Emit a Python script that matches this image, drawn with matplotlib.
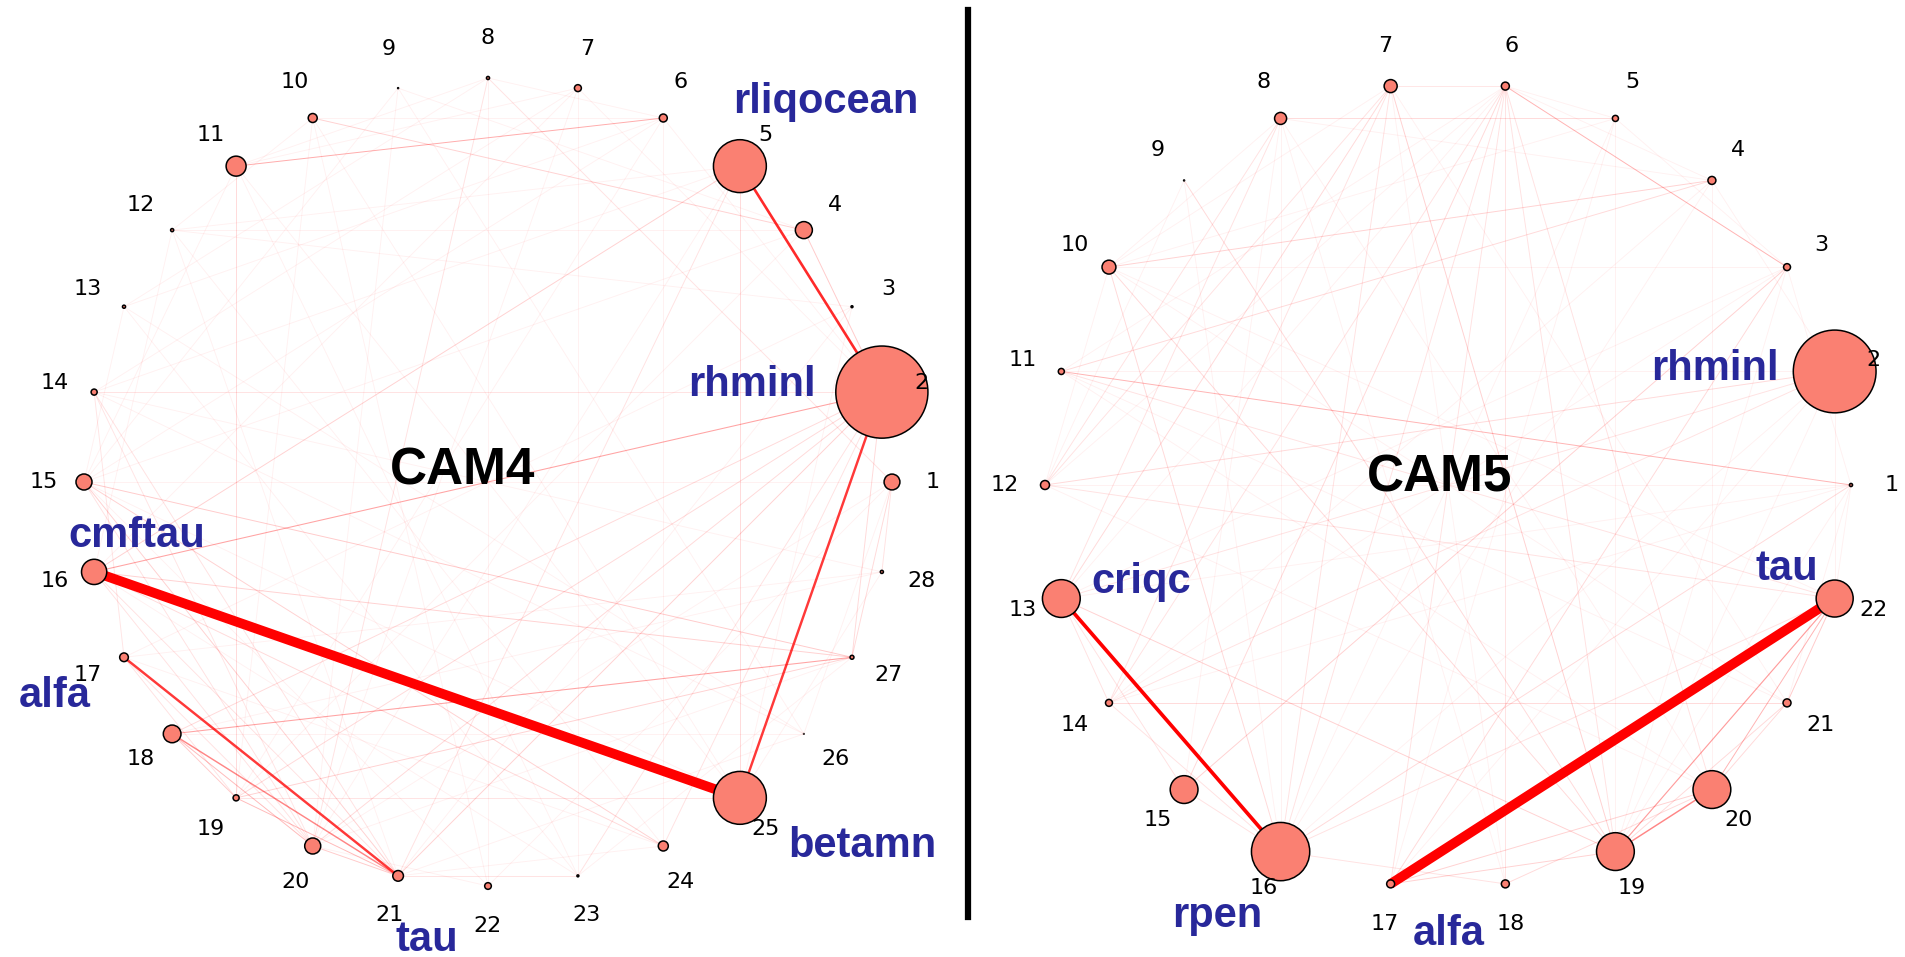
import numpy as np
import matplotlib
matplotlib.use("Agg")
import matplotlib.pyplot as plt
from matplotlib.collections import LineCollection
from matplotlib.lines import Line2D

# ---------------------------------------------------------------- data
# CAM4: 28 parameters, node size = importance, edges = (i, j, strength)
cam4_node_size = [130, 4400, 2, 150, 1450, 33, 25, 5, 0.5, 42,
                  207, 5, 5, 19, 133, 330, 39, 162, 19, 133,
                  59, 23, 2, 52, 1450, 0.2, 8, 5]
cam4_strong = [(16, 25, 1.0), (2, 5, 0.27), (2, 25, 0.25), (17, 21, 0.25),
               (18, 21, 0.15)]
cam4_medium = [(2, 16, 0.11), (18, 27, 0.11), (6, 11, 0.10), (18, 20, 0.08),
               (19, 21, 0.08), (18, 19, 0.06), (20, 21, 0.06), (15, 27, 0.06),
               (4, 10, 0.05), (5, 16, 0.05), (2, 4, 0.06), (2, 21, 0.05),
               (2, 20, 0.04), (2, 19, 0.04), (2, 18, 0.04), (11, 19, 0.04),
               (5, 25, 0.04), (2, 14, 0.03), (19, 25, 0.03), (21, 23, 0.03),
               (15, 21, 0.05), (15, 24, 0.05), (16, 24, 0.04), (16, 27, 0.05),
               (19, 27, 0.05), (8, 20, 0.03), (8, 1, 0.03), (1, 27, 0.04),
               (1, 28, 0.03), (2, 27, 0.04), (2, 24, 0.03), (2, 23, 0.03),
               (5, 21, 0.03), (14, 21, 0.03), (14, 20, 0.025), (15, 20, 0.03),
               (16, 21, 0.03), (16, 20, 0.03), (17, 19, 0.03), (17, 20, 0.03),
               (14, 17, 0.025)]
cam4_faint = [(7, 16), (7, 14), (6, 15), (6, 13), (5, 12), (5, 14), (4, 12),
              (3, 12), (10, 25), (9, 26), (11, 25), (12, 24), (13, 23),
              (13, 26), (10, 22), (11, 23), (12, 21), (14, 26), (15, 25),
              (7, 20), (6, 19), (5, 20), (4, 19), (3, 21), (1, 20), (1, 22),
              (28, 18), (28, 17), (27, 20), (26, 18), (24, 17), (23, 16),
              (22, 15), (6, 24), (7, 23), (8, 22), (9, 20), (10, 19), (3, 17),
              (4, 15), (1, 15), (28, 14), (9, 4), (10, 6), (8, 6), (7, 11),
              (12, 10), (11, 8), (6, 2), (7, 2), (3, 25), (1, 26), (28, 25),
              (24, 21), (22, 20), (26, 21), (27, 23), (13, 15), (12, 16),
              (11, 15), (9, 15), (8, 13)]
cam4_names = {5: "rliqocean", 2: "rhminl", 16: "cmftau", 17: "alfa",
              25: "betamn", 21: "tau"}

# CAM5: 22 parameters
cam5_node_size = [5, 3550, 25, 33, 19, 33, 88, 75, 0.5, 100,
                  19, 42, 740, 25, 400, 1760, 33, 33, 740, 740,
                  33, 710]
cam5_strong = [(17, 22, 1.0), (13, 16, 0.38), (19, 20, 0.15), (19, 22, 0.12),
               (20, 22, 0.09)]
cam5_medium = [(21, 22, 0.06), (17, 20, 0.05), (17, 19, 0.05), (18, 20, 0.04),
               (20, 21, 0.04), (19, 21, 0.04), (1, 11, 0.09), (3, 6, 0.09),
               (5, 8, 0.04), (6, 7, 0.025), (6, 18, 0.03), (7, 19, 0.05),
               (4, 10, 0.05), (4, 11, 0.04), (3, 15, 0.05), (13, 19, 0.05),
               (14, 21, 0.04), (2, 12, 0.04), (10, 16, 0.04), (10, 19, 0.04),
               (9, 19, 0.04), (2, 13, 0.03), (2, 14, 0.03), (6, 15, 0.04),
               (6, 14, 0.03), (6, 16, 0.03), (6, 17, 0.03), (6, 20, 0.03),
               (6, 19, 0.03), (7, 13, 0.04), (7, 14, 0.03), (7, 12, 0.03),
               (7, 16, 0.03), (8, 12, 0.03), (8, 13, 0.03), (1, 16, 0.04),
               (3, 17, 0.04), (12, 22, 0.03), (11, 22, 0.03), (13, 14, 0.03),
               (13, 15, 0.03), (14, 16, 0.03), (15, 16, 0.03), (16, 22, 0.03),
               (16, 18, 0.03)]
cam5_faint = [(8, 20), (8, 18), (7, 18), (7, 21), (6, 13), (6, 12), (6, 11),
              (5, 17), (5, 16), (4, 16), (4, 14), (3, 14), (3, 13), (2, 11),
              (2, 16), (2, 17), (1, 13), (1, 12), (1, 14), (12, 20), (11, 20),
              (11, 21), (10, 21), (10, 22), (9, 16), (8, 16), (8, 15), (5, 19),
              (4, 20), (3, 19), (2, 19), (1, 19), (5, 10), (4, 8), (3, 10),
              (9, 12), (10, 12), (8, 10), (7, 10), (4, 6), (5, 6), (3, 5),
              (2, 4), (1, 3), (2, 22), (1, 22), (1, 21)]
cam5_names = {2: "rhminl", 22: "tau", 13: "criqc", 16: "rpen", 17: "alfa"}

# ---------------------------------------------------------------- layout
W, H, DPI = 1905, 957, 100
NODE_FACE = "#fa8072"
NAME_COLOR = "#28289a"
FAINT_W = 0.01


def edge_alpha(w):
    return float(np.clip(0.025 + 3.0 * w, 0, 1))


def edge_width(w):
    return max(0.7, 7.0 * w)


panels = [
    dict(title="CAM4", sizes=cam4_node_size,
         edges=cam4_strong + cam4_medium + [(a, b, FAINT_W) for a, b in cam4_faint],
         names=cam4_names,
         rect=(0, 0, 960 / W, 1),
         xlim=(-488 / 404, 472 / 404), ylim=(-475 / 404, 482 / 404),
         title_xy=(-0.064, -0.007),
         name_xy={5: (0.837, 0.913), 2: (0.653, 0.213), 16: (-0.869, -0.161),
                  17: (-1.072, -0.557), 25: (0.926, -0.928), 21: (-0.151, -1.162)}),
    dict(title="CAM5", sizes=cam5_node_size,
         edges=cam5_strong + cam5_medium + [(a, b, FAINT_W) for a, b in cam5_faint],
         names=cam5_names,
         rect=(968 / W, 0, 937 / W, 1),
         xlim=(-480 / 403, 457 / 403), ylim=(-472 / 403, 485 / 403),
         title_xy=(-0.02, -0.015),
         name_xy={2: (0.663, 0.26), 22: (0.841, -0.236),
                  13: (-0.762, -0.268), 16: (-0.573, -1.097), 17: (0.002, -1.141)}),
]

fig = plt.figure(figsize=(W / DPI, H / DPI), dpi=DPI)

for p in panels:
    ax = fig.add_axes(p["rect"])
    ax.set_xlim(*p["xlim"])
    ax.set_ylim(*p["ylim"])
    ax.axis("off")

    n = len(p["sizes"])
    theta = 2 * np.pi * np.arange(n) / n
    pos = np.column_stack([np.cos(theta), np.sin(theta)])

    # edges: faint first so strong ones sit on top
    edges = sorted(p["edges"], key=lambda e: e[2])
    segs = [[pos[a - 1], pos[b - 1]] for a, b, _ in edges]
    cols = [(1.0, 0.0, 0.0, edge_alpha(w)) for _, _, w in edges]
    lws = [edge_width(w) for _, _, w in edges]
    ax.add_collection(LineCollection(segs, colors=cols, linewidths=lws,
                                     capstyle="butt", zorder=1))

    ax.scatter(pos[:, 0], pos[:, 1], s=p["sizes"], c=NODE_FACE,
               edgecolors="black", linewidths=1.1, zorder=2)

    for k in range(n):
        ax.text(1.1 * pos[k, 0], 1.1 * pos[k, 1], str(k + 1),
                fontsize=16, family="DejaVu Sans", color="black",
                ha="center", va="center", zorder=3)

    for node, label in p["names"].items():
        x, y = p["name_xy"][node]
        ax.text(x, y, label, fontsize=30, fontweight="bold",
                family="Liberation Sans", color=NAME_COLOR,
                ha="center", va="baseline", zorder=4)

    tx, ty = p["title_xy"]
    ax.text(tx, ty, p["title"], fontsize=37, fontweight="bold",
            family="Liberation Sans", color="black",
            ha="center", va="baseline", zorder=4)

# separator between the two panels
fig.add_artist(Line2D([968 / W, 968 / W], [1 - 10 / H, 1 - 917 / H],
                      transform=fig.transFigure, color="black", lw=4.5))

fig.savefig("out.png", dpi=DPI, facecolor="white")
